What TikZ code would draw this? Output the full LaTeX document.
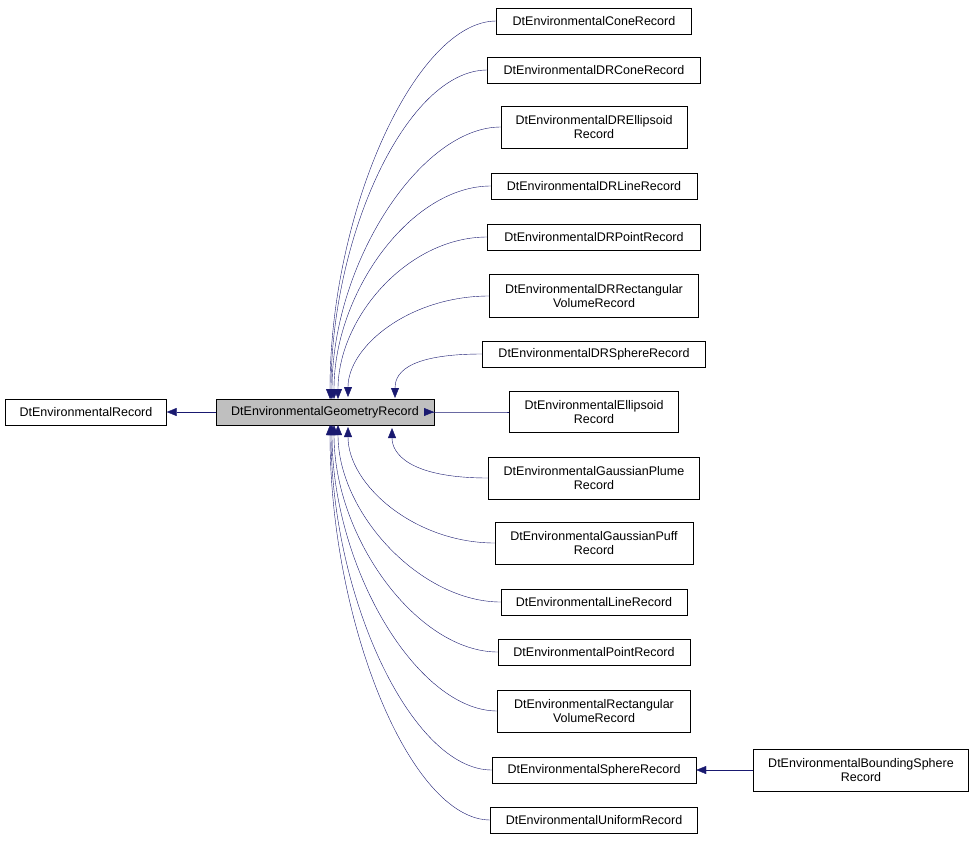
\documentclass[tikz,border=0pt]{standalone}
\usepackage{fontspec}
\setmainfont{Liberation Sans}
\usetikzlibrary{positioning,arrows.meta,calc}
\definecolor{edgeblue}{rgb}{0.1,0.1,0.44}
\definecolor{basegray}{rgb}{0.75,0.75,0.75}

\begin{document}
\begin{tikzpicture}[
	x=1pt, y=-1pt,
	font=\fontsize{12.5}{14}\selectfont
]
\tikzset{
    classbox/.style = {draw=black, align=center, inner sep=0pt, minimum height=26pt},
    edge/.style = {draw=edgeblue, -{Triangle[length=10pt,width=8pt]}},
}
    \useasboundingbox (0,0) rectangle (976,840);

    \node (base) [classbox, minimum width=161pt] at (86,412) {DtEnvironmentalRecord};
    \node (geo) [classbox, minimum width=218pt, fill=basegray] at (325,412) {DtEnvironmentalGeometryRecord};
    \draw[edge] (geo) -- (base);

    % derived classes: name / y / width / height / text / arrow end
    \foreach \n/\y/\w/\h/\t/\e in {
        cone/21/195/26/{DtEnvironmentalConeRecord}/{330,399},
        drcone/70/213/26/{DtEnvironmentalDRConeRecord}/{331,399},
        drell/127/186/42/{DtEnvironmentalDREllipsoid\\Record}/{332,399},
        drline/186/206/26/{DtEnvironmentalDRLineRecord}/{334,399},
        drpoint/237/213/26/{DtEnvironmentalDRPointRecord}/{338,399},
        drrect/296/209/43/{DtEnvironmentalDRRectangular\\VolumeRecord}/{348,397},
        drsphere/354/223/26/{DtEnvironmentalDRSphereRecord}/{395,398},
        ell/412/169/41/{DtEnvironmentalEllipsoid\\Record}/{434,412},
        plume/478/211/42/{DtEnvironmentalGaussianPlume\\Record}/{392,428},
        puff/543/198/42/{DtEnvironmentalGaussianPuff\\Record}/{348,427},
        line/602/186/26/{DtEnvironmentalLineRecord}/{338,425},
        point/652/192/26/{DtEnvironmentalPointRecord}/{334,425},
        rect/711/193/42/{DtEnvironmentalRectangular\\VolumeRecord}/{332,425},
        sphere/770/204/26/{DtEnvironmentalSphereRecord}/{331,425},
        uniform/820/207/26/{DtEnvironmentalUniformRecord}/{330,425}}
    {
        \node (\n) [classbox, minimum width=\w pt, minimum height=\h pt] at (594,\y) {\t};
        \coordinate (\n end) at (\e);
        \draw[edge] (\n.west) .. controls ($(\n.west)+(-80,0)$) and ($(\n end)!0.5!(\n end |- \n.west)$) .. (\n end);
    }

    \node (bsphere) [classbox, minimum width=215pt, minimum height=42pt] at (861,770) {DtEnvironmentalBoundingSphere\\Record};
    \draw[edge] (bsphere) -- (sphere);
\end{tikzpicture}
\end{document}
